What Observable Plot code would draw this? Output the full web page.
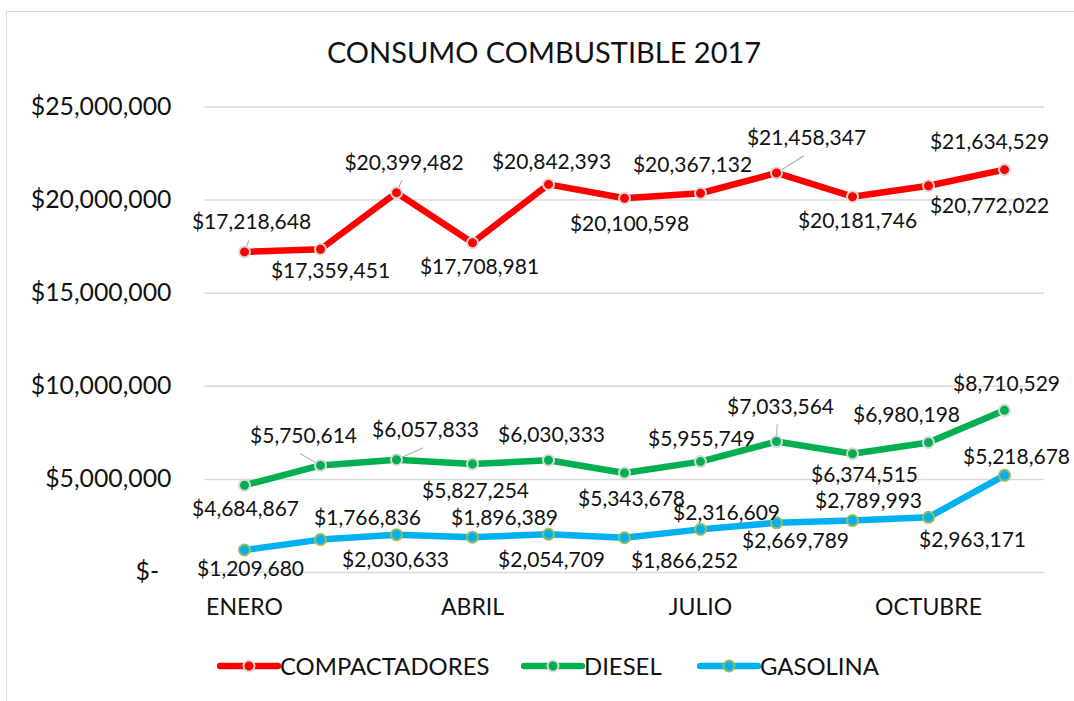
<!DOCTYPE html>
<html>
<head>
<meta charset="utf-8">
<script src="https://cdn.jsdelivr.net/npm/d3@7"></script>
<script src="https://cdn.jsdelivr.net/npm/@observablehq/plot@0.6"></script>
<style>
  html, body { margin: 0; padding: 0; background: #fff; overflow: hidden; }
  #wrap { position: relative; width: 1074px; height: 701px; font-family: Lato, "Open Sans", sans-serif; color: #111; }
  #frame { position: absolute; left: 6px; top: 11px; width: 1100px; height: 720px; border-left: 1.5px solid #d9d9d9; border-top: 1.5px solid #d9d9d9; box-sizing: border-box; }
  #title { position: absolute; left: 0; top: 37px; width: 1088px; text-align: center; font-size: 29px; line-height: 29px; white-space: nowrap; }
  #chart { position: absolute; left: 0; top: 80px; }
  .leg { position: absolute; top: 653.5px; font-size: 23.9px; line-height: 23.9px; white-space: nowrap; }
  .legsw { position: absolute; top: 658px; }
</style>
</head>
<body>
<div id="wrap">
  <div id="frame"></div>
  <div id="title">CONSUMO COMBUSTIBLE 2017</div>
  <div id="chart"></div>
  <div id="legend"></div>
</div>
<script>
// ---- data ----
const months = ["ENERO","FEBRERO","MARZO","ABRIL","MAYO","JUNIO","JULIO","AGOSTO","SEPTIEMBRE","OCTUBRE","NOVIEMBRE"];
const seriesNames = ["COMPACTADORES","DIESEL","GASOLINA"];
const compactadores = [17218648,17359451,20399482,17708981,20842393,20100598,20367132,21458347,20181746,20772022,21634529];
const diesel = [4684867,5750614,6057833,5827254,6030333,5343678,5955749,7033564,6374515,6980198,8710529];
const gasolina = [1209680,1766836,2030633,1896389,2054709,1866252,2316609,2669789,2789993,2963171,5218678];
const yTicks = [0,5000000,10000000,15000000,20000000,25000000];
const xTickLabels = ["ENERO","ABRIL","JULIO","OCTUBRE"];

// ---- styling ----
const colors = {COMPACTADORES: "#ff0000", DIESEL: "#00b050", GASOLINA: "#00b0f0"};
const markerStroke = {COMPACTADORES: "#d9d9d9", DIESEL: "#d9d9d9", GASOLINA: "#9bbb59"};
// label nudges in pixels [dx, dy] (placement style)
const labelNudge = {
  COMPACTADORES: [[7,-30],[10,22],[7.5,-29.5],[7,24.4],[3,-22],[5,26],[-8,-28],[30,-35],[5,24.4],[61,21],[-15,-27.5]],
  DIESEL: [[1,24],[-17,-29],[29,-29],[3,27],[3,-25],[7,26],[1,-22],[4,-34],[12,21],[-22,-27],[2,-26.5]],
  GASOLINA: [[6,19],[47,-21],[-1,26],[32,-19],[3,26],[60,24],[26,-15.6],[19,18],[16,-19],[44,23],[12,-18]]
};
// leader lines: [series, month index, angle deg, length px]
const leaders = [["COMPACTADORES",0,21,12],["COMPACTADORES",2,24,13],["COMPACTADORES",7,58,32],
                 ["DIESEL",1,-60,23],["DIESEL",2,66,29],["DIESEL",7,2,17]];

const valuesBySeries = {COMPACTADORES: compactadores, DIESEL: diesel, GASOLINA: gasolina};
const rows = [];
for (const s of seriesNames) valuesBySeries[s].forEach((v, i) => rows.push({series: s, month: months[i], value: v, i}));

const fmt = d3.format("$,");
const font = "Lato, 'Open Sans', sans-serif";

const lineShape = { draw(context, l) { context.moveTo(0, 0); context.lineTo(0, -l); } };

const marks = [
  Plot.gridY(yTicks, {stroke: "#d9d9d9", strokeOpacity: 1, strokeWidth: 1.5}),
  Plot.axisY({ticks: yTicks, tickSize: 0, tickPadding: 33.5, fontSize: 24.8,
    tickFormat: d => d === 0 ? "$-\u2002" : fmt(d), fill: "#111", label: null}),
  Plot.axisX({ticks: xTickLabels, tickSize: 0, tickPadding: 26, fontSize: 23, fill: "#111", label: null}),
];
for (const [s, i, ang, len] of leaders) {
  marks.push(Plot.vector([{month: months[i], value: valuesBySeries[s][i]}],
    {x: "month", y: "value", rotate: ang, length: len, anchor: "start", shape: lineShape, stroke: "#a6a6a6", strokeWidth: 1}));
}
for (const s of seriesNames) {
  const data = rows.filter(r => r.series === s);
  marks.push(Plot.line(data, {x: "month", y: "value", stroke: colors[s], strokeWidth: 6.5, strokeLinejoin: "round", strokeLinecap: "round"}));
}
for (const s of seriesNames) {
  const data = rows.filter(r => r.series === s);
  marks.push(Plot.dot(data, {x: "month", y: "value", r: 5.5, fill: colors[s], stroke: markerStroke[s], strokeWidth: 2}));
}
for (const r of rows) {
  const [dx, dy] = labelNudge[r.series][r.i];
  marks.push(Plot.text([r], {x: "month", y: "value", text: d => fmt(d.value), dx, dy, fontSize: 21, fill: "#111"}));
}

const chart = Plot.plot({
  width: 1074,
  height: 570,
  marginTop: 26.5,
  marginBottom: 78,
  marginLeft: 204.5,
  marginRight: 30,
  style: {fontFamily: font, background: "transparent", overflow: "visible"},
  x: {type: "point", domain: months, padding: 0.5},
  y: {domain: [0, 25000000]},
  marks
});
document.getElementById("chart").appendChild(chart);

// ---- legend ----
const legend = document.getElementById("legend");
const legPos = [[220, 280], [524, 584], [700, 760]];
seriesNames.forEach((s, k) => {
  const [lx, tx] = legPos[k];
  const sw = document.createElementNS("http://www.w3.org/2000/svg", "svg");
  sw.setAttribute("width", 64); sw.setAttribute("height", 16);
  sw.setAttribute("class", "legsw");
  sw.style.left = (lx - 3) + "px";
  sw.innerHTML = `<line x1="3" y1="8" x2="61" y2="8" stroke="${colors[s]}" stroke-width="6.5" stroke-linecap="round"/>` +
    `<circle cx="32" cy="8" r="5.5" fill="${colors[s]}" stroke="${markerStroke[s]}" stroke-width="2"/>`;
  legend.appendChild(sw);
  const t = document.createElement("div");
  t.className = "leg";
  t.style.left = tx + "px";
  t.textContent = s;
  legend.appendChild(t);
});
</script>
</body>
</html>
